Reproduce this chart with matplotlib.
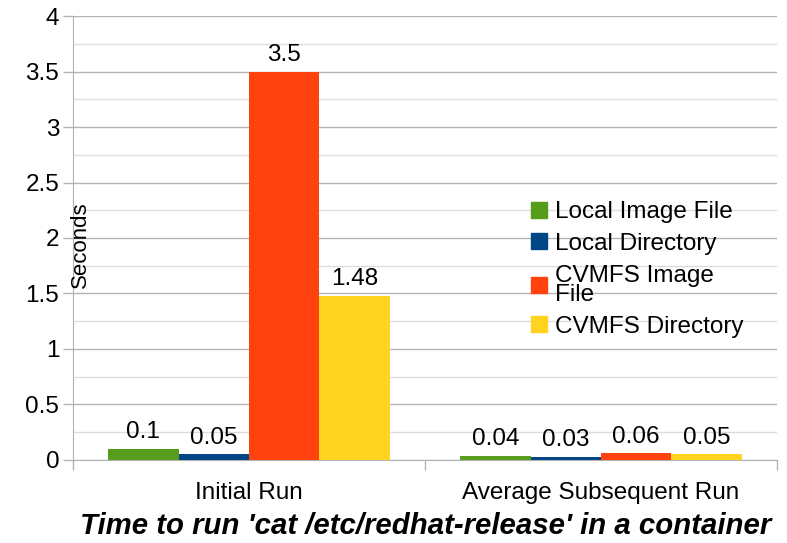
import matplotlib.pyplot as plt
import numpy as np
from matplotlib.lines import Line2D

plt.rcParams['font.family'] = ['Liberation Sans', 'DejaVu Sans']

categories = ['Initial Run', 'Average Subsequent Run']
series = ['Local Image File', 'Local Directory', 'CVMFS Image\nFile', 'CVMFS Directory']
values = [
    [0.1, 0.04],
    [0.05, 0.03],
    [3.5, 0.06],
    [1.48, 0.05],
]
labels = [['0.1', '0.04'], ['0.05', '0.03'], ['3.5', '0.06'], ['1.48', '0.05']]
colors = ['#579d1c', '#004586', '#ff420e', '#ffd320']

fig = plt.figure(figsize=(7.87, 5.43), dpi=100)
ax = fig.add_axes([0.0928, 0.1529, 0.8945, 0.8176])

x = np.arange(len(categories))
w = 0.2
for i, (vals, c) in enumerate(zip(values, colors)):
    pos = x - 0.3 + i * w
    ax.bar(pos, vals, width=w, color=c, zorder=3)
    for p, v, t in zip(pos, vals, labels[i]):
        ax.text(p, v + 0.05, t, ha='center', va='bottom', fontsize=17.5)

ax.set_xlim(-0.5, 1.5)
ax.set_ylim(0, 4)
ax.set_yticks(np.arange(0, 4.01, 0.5))
ax.set_yticklabels(['0', '0.5', '1', '1.5', '2', '2.5', '3', '3.5', '4'])
ax.set_yticks(np.arange(0.25, 4, 0.5), minor=True)
ax.grid(axis='y', which='major', color='#b3b3b3', lw=1, zorder=0)
ax.grid(axis='y', which='minor', color='#dddddd', lw=1, zorder=0)

ax.set_xticks([-0.5, 0.5, 1.5])
ax.set_xticklabels([])
ax.set_xticks(x, minor=True)
ax.set_xticklabels(categories, minor=True)
ax.tick_params(axis='x', which='major', length=7, color='#b3b3b3', width=1)
ax.tick_params(axis='x', which='minor', length=0, labelsize=17.5, pad=16)
ax.tick_params(axis='y', which='major', length=7, color='#b3b3b3', width=1,
               labelsize=17.5, pad=3)
ax.tick_params(axis='y', which='minor', length=0)

for s in ['top', 'right']:
    ax.spines[s].set_visible(False)
ax.spines['left'].set_color('#b3b3b3')
ax.spines['bottom'].set_color('#b3b3b3')
ax.spines['left'].set_bounds(-0.03, 4)

ax.text(0.011, 0.485, 'Seconds', transform=ax.transAxes, rotation=90,
        ha='center', va='center', fontsize=16)

handles = [Line2D([], [], marker='s', ls='none', markersize=12, color=c) for c in colors]
leg = ax.legend(handles, series, loc='upper left', bbox_to_anchor=(0.631, 0.605),
                frameon=False, fontsize=17.5, handletextpad=0.15, labelspacing=0.4,
                handlelength=1.0, borderaxespad=0)
for t in leg.get_texts():
    t.set_linespacing(0.85)

fig.text(0.541, 0.006, "Time to run 'cat /etc/redhat-release' in a container",
         ha='center', va='bottom', fontsize=21.2, fontweight='bold', style='italic')

fig.savefig('out.png', dpi=100)
